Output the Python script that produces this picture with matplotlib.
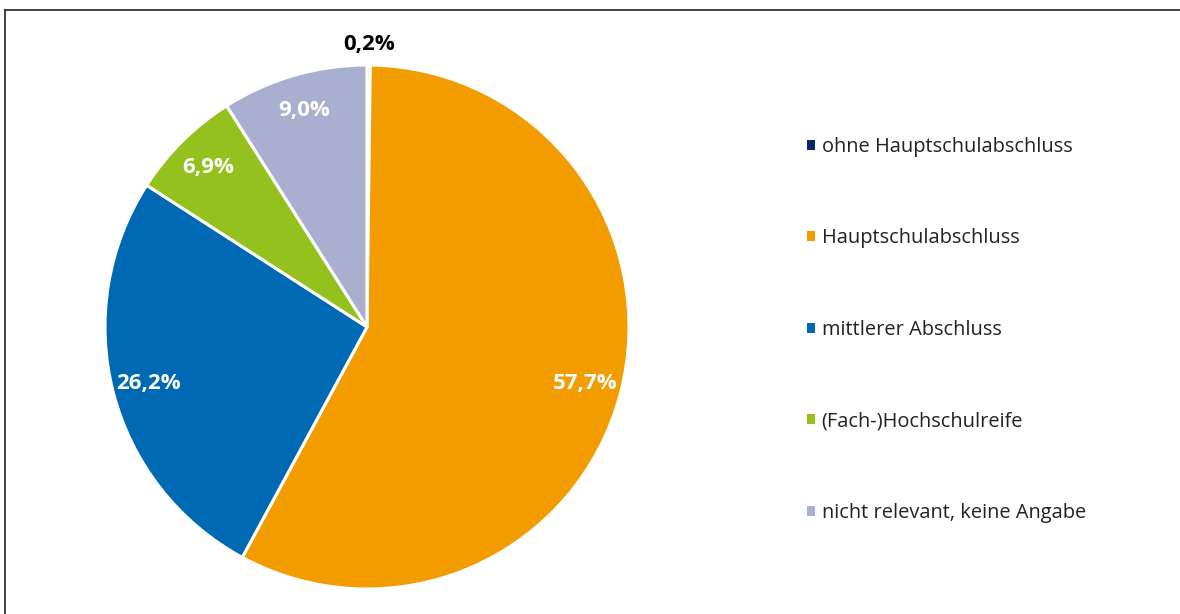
import matplotlib.pyplot as plt
import numpy as np
from matplotlib.lines import Line2D
from matplotlib.patches import Patch

categories = ['ohne Hauptschulabschluss', 'Hauptschulabschluss', 'mittlerer Abschluss',
              '(Fach-)Hochschulreife', 'nicht relevant, keine Angabe']
shares = [0.2, 57.7, 26.2, 6.9, 9.0]
share_labels = ['0,2%', '57,7%', '26,2%', '6,9%', '9,0%']
colors = ['#0b2565', '#f39c00', '#0069b4', '#95c11f', '#a9b0cf']

plt.rcParams['font.family'] = ['Open Sans', 'DejaVu Sans']

fig = plt.figure(figsize=(11.8, 6.14), dpi=100)

# pie centre at (367, 327) px, radius 262 px
r_px = 262
half = 1.2 * r_px
ax = fig.add_axes([(367 - half) / 1180, (614 - 327 - half) / 614, 2 * half / 1180, 2 * half / 614])
wedges, _ = ax.pie(shares, colors=colors, startangle=90, counterclock=False,
                   wedgeprops=dict(edgecolor='white', linewidth=2.2))
ax.set_xlim(-1.2, 1.2)
ax.set_ylim(-1.2, 1.2)
ax.axis('off')

for i, w in enumerate(wedges):
    mid = np.deg2rad((w.theta1 + w.theta2) / 2)
    if shares[i] < 1:
        r, col = 1.08, 'black'
    else:
        r, col = 0.86, 'white'
    ax.text(r * np.cos(mid), r * np.sin(mid), share_labels[i], ha='center', va='center',
            color=col, fontsize=16, fontweight='bold')

handles = [Patch(facecolor=c, edgecolor='none') for c in colors]
fig.legend(handles, categories, loc='upper left', bbox_to_anchor=(797 / 1180, 1 - 127 / 614),
           frameon=False, fontsize=14.4, handlelength=0.38, handleheight=0.38, borderpad=0,
           handletextpad=0.35, labelspacing=3.575, labelcolor='#222222')

# frame (top and left edge visible)
fig.add_artist(Line2D([5 / 1180, 1], [1 - 10 / 614, 1 - 10 / 614], transform=fig.transFigure,
                      color='#333333', linewidth=1.3))
fig.add_artist(Line2D([5 / 1180, 5 / 1180], [0, 1 - 10 / 614], transform=fig.transFigure,
                      color='#333333', linewidth=1.3))

fig.savefig('out.png', dpi=100)
